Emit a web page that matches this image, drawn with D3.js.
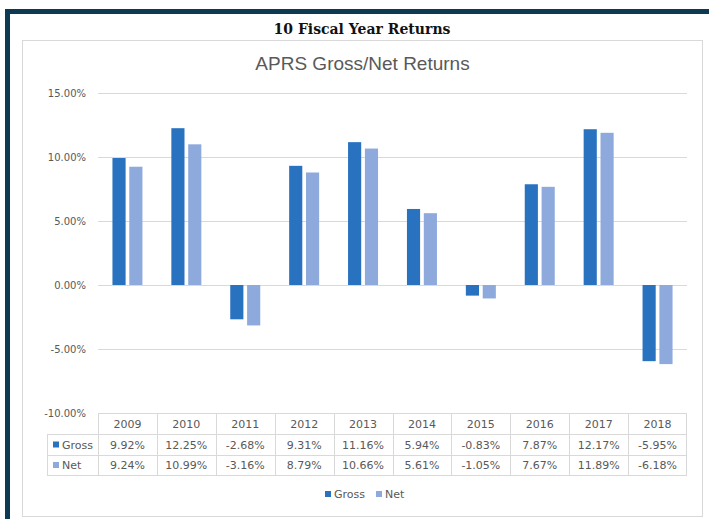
<!DOCTYPE html>
<html>
<head>
<meta charset="utf-8">
<script src="https://cdn.jsdelivr.net/npm/d3@7"></script>
<style>
  body { margin: 0; background: #fff; }
  svg { display: block; }
</style>
</head>
<body>
<svg id="chart" width="709" height="519"></svg>
<script>
// data
const years = ["2009", "2010", "2011", "2012", "2013", "2014", "2015", "2016", "2017", "2018"];
const seriesNames = ["Gross", "Net"];
const gross = [9.92, 12.25, -2.68, 9.31, 11.16, 5.94, -0.83, 7.87, 12.17, -5.95];
const net = [9.24, 10.99, -3.16, 8.79, 10.66, 5.61, -1.05, 7.67, 11.89, -6.18];
const yTicks = [-10, -5, 0, 5, 10, 15];

const colors = { Gross: "#2872c0", Net: "#8eaadd" };
const textGray = "#595959";
const gridGray = "#d9d9d9";
const pct = d => d.toFixed(2) + "%";

const svg = d3.select("#chart");

// outer dark frame (top and left)
svg.append("rect").attr("x", 5).attr("y", 9).attr("width", 704).attr("height", 5).attr("fill", "#0d3a52");
svg.append("rect").attr("x", 5).attr("y", 9).attr("width", 5).attr("height", 510).attr("fill", "#0d3a52");

svg.append("text")
    .attr("x", 362)
    .attr("y", 34)
    .attr("text-anchor", "middle")
    .attr("font-family", "DejaVu Serif, serif")
    .attr("font-weight", "bold")
    .attr("font-size", "14px")
    .attr("fill", "#111")
    .text("10 Fiscal Year Returns");

// chart area box
svg.append("rect")
    .attr("x", 22.5).attr("y", 40.5)
    .attr("width", 680).attr("height", 476)
    .attr("fill", "#fff")
    .attr("stroke", gridGray);

svg.append("text")
    .attr("x", 362.5)
    .attr("y", 70)
    .attr("text-anchor", "middle")
    .attr("font-family", "Liberation Sans, sans-serif")
    .attr("font-size", "19px")
    .attr("fill", textGray)
    .text("APRS Gross/Net Returns");

const x = d3.scaleBand().domain(years).range([98, 687]);
const y = d3.scaleLinear().domain([-10, 15]).range([413, 93]);
const half = x.bandwidth() / 2;
const xSub = d3.scaleBand().domain(seriesNames).range([half - 15, half + 15]).paddingInner(0.22);

// gridlines
svg.append("g")
    .selectAll("line")
    .data(yTicks)
    .enter().append("line")
    .attr("x1", 98).attr("x2", 687)
    .attr("y1", d => Math.round(y(d)) + 0.5)
    .attr("y2", d => Math.round(y(d)) + 0.5)
    .attr("stroke", gridGray);

// y labels
svg.append("g")
    .selectAll("text")
    .data(yTicks)
    .enter().append("text")
    .attr("x", 86)
    .attr("y", d => y(d) + 4)
    .attr("text-anchor", "end")
    .attr("font-family", "DejaVu Sans, sans-serif")
    .attr("font-size", "10px")
    .attr("fill", textGray)
    .text(d => pct(d));

// bars
const rows = years.map((yr, i) => ({ year: yr, Gross: gross[i], Net: net[i] }));
const groups = svg.append("g")
    .selectAll("g")
    .data(rows)
    .enter().append("g")
    .attr("transform", d => `translate(${x(d.year)},0)`);

groups.selectAll("rect")
    .data(d => seriesNames.map(s => ({ key: s, value: d[s] })))
    .enter().append("rect")
    .attr("x", d => xSub(d.key))
    .attr("width", xSub.bandwidth())
    .attr("y", d => y(Math.max(0, d.value)))
    .attr("height", d => Math.abs(y(d.value) - y(0)))
    .attr("fill", d => colors[d.key]);

// data table
const tTop = y(-10);
const rowH = [21, 21, 20];
const rowY = [tTop, tTop + rowH[0], tTop + rowH[0] + rowH[1], tTop + rowH[0] + rowH[1] + rowH[2]];
const labelLeft = 47;
const table = svg.append("g").attr("stroke", gridGray).attr("fill", "none");

// horizontal borders
table.append("line").attr("x1", 98).attr("x2", 687).attr("y1", rowY[0] + 0.5).attr("y2", rowY[0] + 0.5);
[1, 2, 3].forEach(r => {
    table.append("line").attr("x1", labelLeft).attr("x2", 687)
        .attr("y1", Math.round(rowY[r]) + 0.5).attr("y2", Math.round(rowY[r]) + 0.5);
});
// vertical borders
years.forEach(yr => {
    table.append("line").attr("x1", Math.round(x(yr)) + 0.5).attr("x2", Math.round(x(yr)) + 0.5)
        .attr("y1", rowY[0]).attr("y2", rowY[3]);
});
table.append("line").attr("x1", 686.5).attr("x2", 686.5).attr("y1", rowY[0]).attr("y2", rowY[3]);
table.append("line").attr("x1", labelLeft + 0.5).attr("x2", labelLeft + 0.5).attr("y1", rowY[1]).attr("y2", rowY[3]);

const cellFont = g => g.attr("font-family", "DejaVu Sans, sans-serif").attr("font-size", "11px").attr("fill", textGray);

svg.append("g").call(cellFont)
    .selectAll("text")
    .data(years)
    .enter().append("text")
    .attr("x", d => x(d) + half)
    .attr("y", (rowY[0] + rowY[1]) / 2 + 4)
    .attr("text-anchor", "middle")
    .text(d => d);

const tableSeries = [{ key: "Gross", values: gross }, { key: "Net", values: net }];
tableSeries.forEach((s, r) => {
    const cy = (rowY[r + 1] + rowY[r + 2]) / 2;
    svg.append("rect")
        .attr("x", 53).attr("y", cy - 3)
        .attr("width", 6).attr("height", 6)
        .attr("fill", colors[s.key]);
    svg.append("text").call(cellFont)
        .attr("x", 62).attr("y", cy + 4)
        .text(s.key);
    svg.append("g").call(cellFont)
        .selectAll("text")
        .data(s.values)
        .enter().append("text")
        .attr("x", (d, i) => x(years[i]) + half)
        .attr("y", cy + 4)
        .attr("text-anchor", "middle")
        .text(d => pct(d));
});

// legend
const legend = svg.append("g").attr("transform", "translate(0,494)");
const legendItems = [{ key: "Gross", x: 325 }, { key: "Net", x: 376 }];
legendItems.forEach(it => {
    legend.append("rect").attr("x", it.x).attr("y", -3).attr("width", 6).attr("height", 6).attr("fill", colors[it.key]);
    legend.append("text").call(cellFont)
        .attr("x", it.x + 9).attr("y", 4)
        .text(it.key);
});
</script>
</body>
</html>
